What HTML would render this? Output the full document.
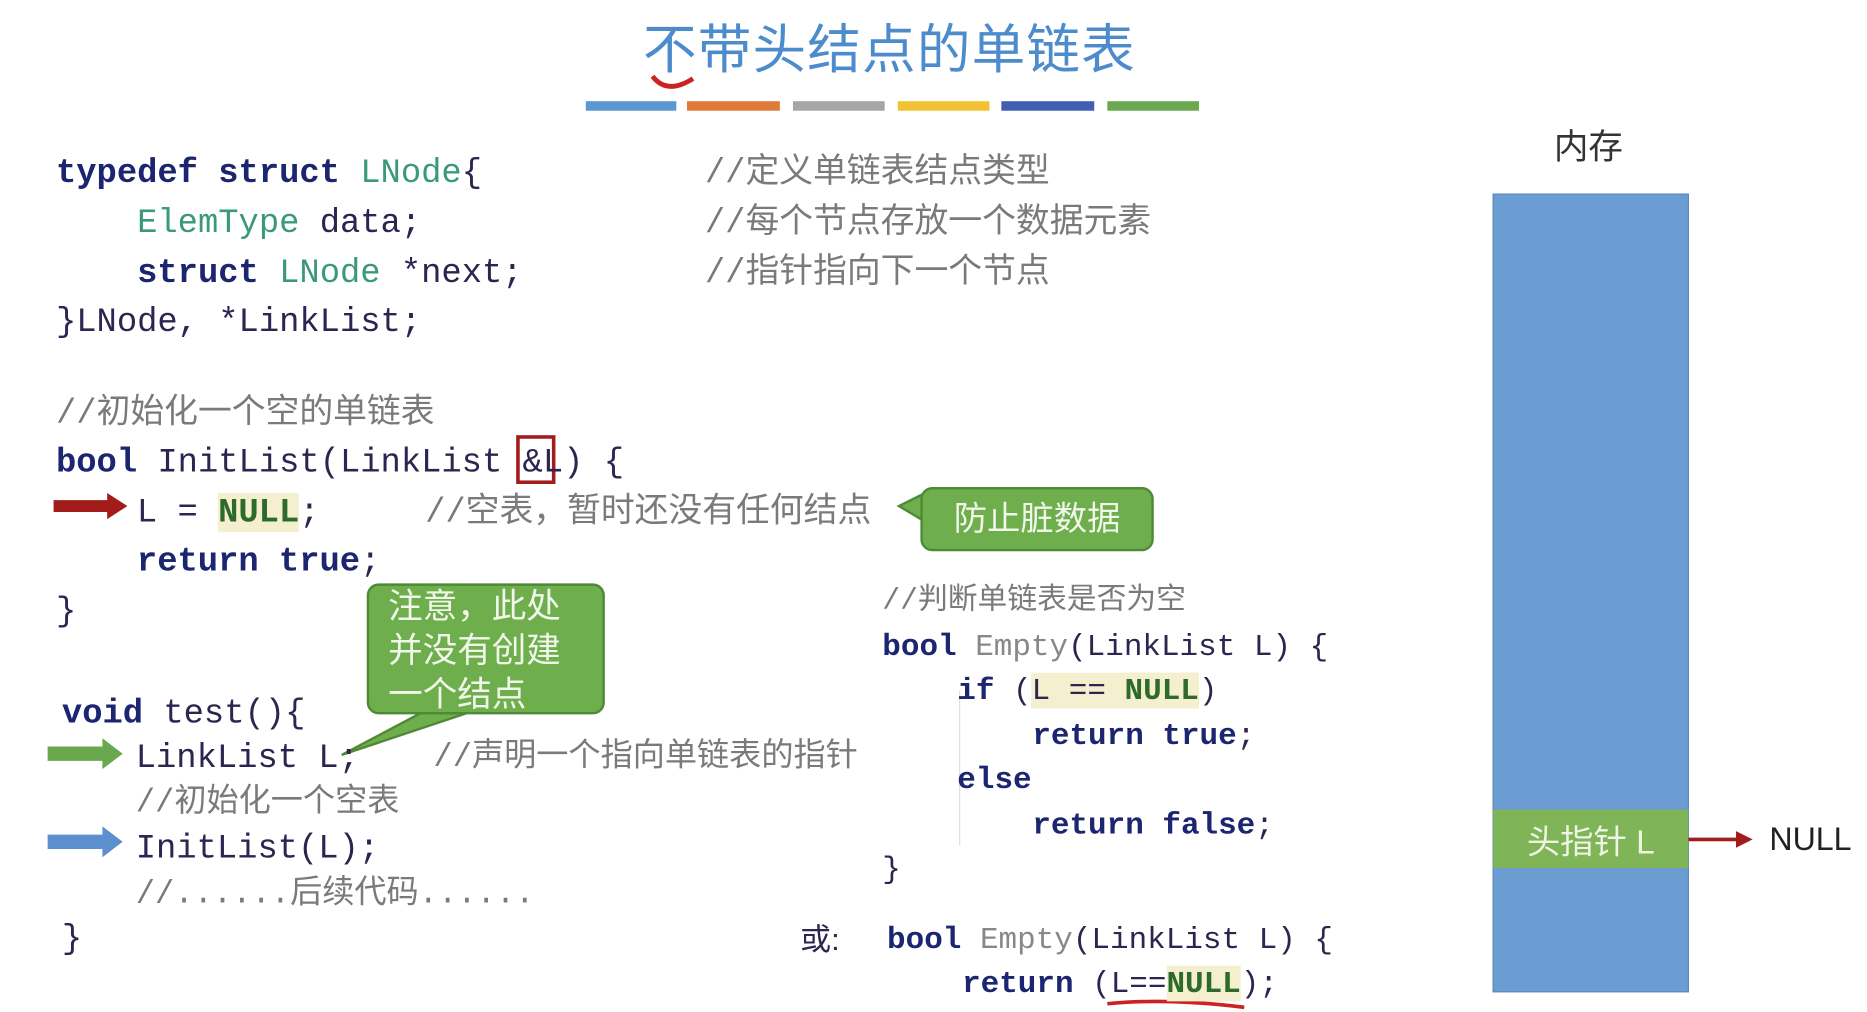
<!DOCTYPE html>
<html><head><meta charset="utf-8"><style>
html,body{margin:0;padding:0;background:#fff;width:1867px;height:1012px;overflow:hidden}
#s{position:absolute;left:0;top:0;width:1568px;height:850px;transform:scale(1.19068);transform-origin:0 0;font-family:"Liberation Mono","Noto Sans CJK SC",monospace;}
.t{position:absolute;white-space:pre;font-size:28.4px;line-height:30px;color:#2b2550;transform:translateY(-12px)}
.r{font-size:26px}
.k{color:#1c2570;font-weight:bold}
.g{color:#3a9a78}
.c{color:#7a7a7a;font-family:"Liberation Mono","Noto Sans CJK SC",monospace}
.n{color:#2e6b2a;font-weight:bold;background:#f4f0cf}
.cn{font-family:"Liberation Sans","Noto Sans CJK SC",sans-serif}
.bar{position:absolute;top:85px;height:8px}
.bub{position:absolute;background:#6fae4c;border:2px solid #4e8a35;border-radius:10px;color:#f2f7ec;font-family:"Liberation Sans","Noto Sans CJK SC",sans-serif}
</style></head><body><div id="s">
<div class="cn" style="position:absolute;left:540px;top:5px;font-size:45px;color:#4d8ccc;letter-spacing:1px">不带头结点的单链表</div>
<svg style="position:absolute;left:0;top:0" width="1568" height="850">
<path d="M548 64 Q560 80 582 66" stroke="#c22" stroke-width="4" fill="none"/>
<path d="M45 425 H92" stroke="#a31c1c" stroke-width="10"/><polygon points="90,414 107,425 90,436" fill="#a31c1c"/>
<path d="M40 633 H88" stroke="#6aa84f" stroke-width="12"/><polygon points="86,620 103,633 86,646" fill="#6aa84f"/>
<path d="M40 707 H88" stroke="#5b8fcf" stroke-width="12"/><polygon points="86,694 103,707 86,720" fill="#5b8fcf"/>
<rect x="435" y="367" width="30" height="38" fill="none" stroke="#a31c1c" stroke-width="3"/>
<line x1="806" y1="580" x2="806" y2="710" stroke="#ddd" stroke-width="1"/>
<path d="M930 843 Q980 838 1045 846" stroke="#c22" stroke-width="3" fill="none"/>
<rect x="1254" y="163" width="164" height="670" fill="#6b9dd3" stroke="#5a88bd"/>
<rect x="1254" y="680" width="164" height="49" fill="#7fb556"/>
<path d="M1418 705 H1460" stroke="#a31c1c" stroke-width="3"/><polygon points="1458,698 1472,705 1458,712" fill="#a31c1c"/>
<polygon points="755,425 775,415 775,437" fill="#6fae4c" stroke="#4e8a35" stroke-width="2"/>
<polygon points="287,634 355,598 395,598" fill="#6fae4c" stroke="#4e8a35" stroke-width="2"/>
</svg>
<div class="bar" style="left:492px;width:76px;background:#5b97d1"></div>
<div class="bar" style="left:577px;width:78px;background:#e07a3a"></div>
<div class="bar" style="left:666px;width:77px;background:#a6a6a6"></div>
<div class="bar" style="left:754px;width:77px;background:#f1c232"></div>
<div class="bar" style="left:841px;width:78px;background:#3f5fb0"></div>
<div class="bar" style="left:930px;width:77px;background:#6aa84f"></div>

<div class="t" style="left:47px;top:143px"><span class="k">typedef struct</span> <span class="g">LNode</span>{</div>
<div class="t" style="left:47px;top:185px">    <span class="g">ElemType</span> data;</div>
<div class="t" style="left:47px;top:227px">    <span class="k">struct</span> <span class="g">LNode</span> *next;</div>
<div class="t" style="left:47px;top:268px">}LNode, *LinkList;</div>
<div class="t c" style="left:592px;top:143px">//定义单链表结点类型</div>
<div class="t c" style="left:592px;top:185px">//每个节点存放一个数据元素</div>
<div class="t c" style="left:592px;top:227px">//指针指向下一个节点</div>

<div class="t c" style="left:47px;top:345px">//初始化一个空的单链表</div>
<div class="t" style="left:47px;top:386px"><span class="k">bool</span> InitList(LinkList &amp;L) {</div>
<div class="t" style="left:115px;top:428px">L = <span class="n">NULL</span>;</div>
<div class="t c" style="left:357px;top:428px">//空表，暂时还没有任何结点</div>
<div class="t" style="left:115px;top:469px"><span class="k">return true</span>;</div>
<div class="t" style="left:47px;top:511px">}</div>

<div class="t" style="left:52px;top:597px"><span class="k">void</span> test(){</div>
<div class="t" style="left:114px;top:634px">LinkList L;</div>
<div class="t c" style="left:364px;top:634px;font-size:27px">//声明一个指向单链表的指针</div>
<div class="t c" style="left:114px;top:672px;font-size:27px">//初始化一个空表</div>
<div class="t" style="left:114px;top:710px">InitList(L);</div>
<div class="t c" style="left:114px;top:749px;font-size:27px">//......后续代码......</div>
<div class="t" style="left:52px;top:786px">}</div>

<div class="t c" style="left:741px;top:502px;font-size:25px">//判断单链表是否为空</div>
<div class="t r" style="left:741px;top:540px"><span class="k">bool</span> <span style="color:#888">Empty</span>(LinkList L) {</div>
<div class="t r" style="left:804px;top:577px"><span class="k">if</span> (<span style="background:#f4f0cf">L == <span class="n">NULL</span></span>)</div>
<div class="t r" style="left:867px;top:615px"><span class="k">return true</span>;</div>
<div class="t r" style="left:804px;top:652px"><span class="k">else</span></div>
<div class="t r" style="left:867px;top:690px"><span class="k">return false</span>;</div>
<div class="t r" style="left:741px;top:727px">}</div>
<div class="t cn r" style="left:672px;top:786px">或:</div>
<div class="t r" style="left:745px;top:786px"><span class="k">bool</span> <span style="color:#888">Empty</span>(LinkList L) {</div>
<div class="t r" style="left:808px;top:823px"><span class="k">return</span> (L==<span class="n">NULL</span>);</div>

<div class="bub" style="left:773px;top:409px;width:192px;height:50px;font-size:28px;line-height:50px;text-align:center">防止脏数据</div>
<div class="bub" style="left:308px;top:490px;width:200px;height:110px;font-size:29px;line-height:37px;padding-left:16px;box-sizing:border-box">注意，此处<br>并没有创建<br>一个结点</div>

<div class="cn" style="position:absolute;left:1305px;top:100px;font-size:29px;color:#333">内存</div>
<div class="cn" style="position:absolute;left:1254px;top:686px;width:164px;text-align:center;font-size:28px;color:#eef5e6">头指针 L</div>
<div class="cn" style="position:absolute;left:1486px;top:690px;font-size:27px;color:#222">NULL</div>
</div></body></html>
